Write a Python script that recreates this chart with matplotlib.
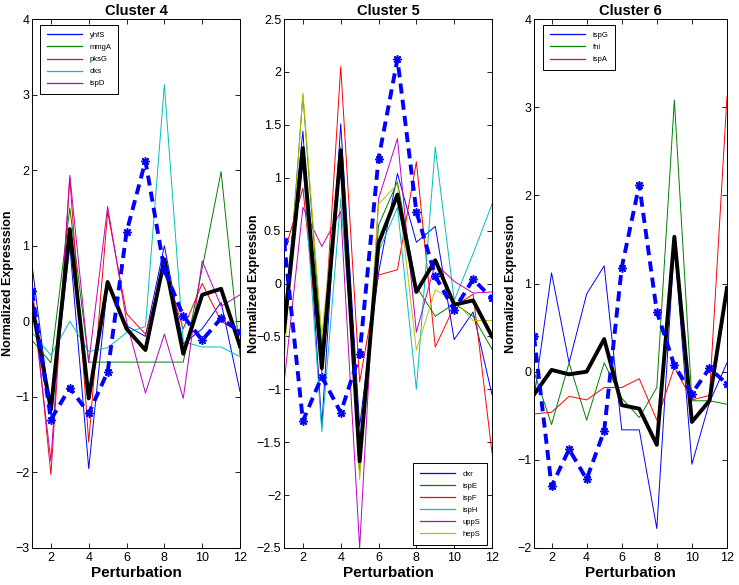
import matplotlib
matplotlib.use("Agg")
import matplotlib.pyplot as plt
import numpy as np
from matplotlib.ticker import FuncFormatter, MultipleLocator

plt.rcParams.update({
    "font.family": ["Liberation Sans", "DejaVu Sans"],
    "axes.linewidth": 0.7,
    "xtick.direction": "in",
    "ytick.direction": "in",
    "xtick.top": True,
    "ytick.right": True,
    "xtick.major.size": 3.5,
    "ytick.major.size": 3.5,
    "xtick.major.width": 0.6,
    "ytick.major.width": 0.6,
    "xtick.labelsize": 9,
    "ytick.labelsize": 9,
})

PERTURB = np.arange(1, 13)

# shared reference profile (blue dashed, same in every panel)
REF_PROFILE = [0.40, -1.30, -0.88, -1.22, -0.67, 1.18, 2.12, 0.68, 0.07, -0.25, 0.04, -0.14]

# Cluster 4
C4_GENES = ["yhfS", "mmgA", "pksG", "dxs", "ispD"]
yhfS = [0.75, -1.25, 1.00, -1.95, 0.50, -0.06, -0.20, 1.00, -0.30, -0.10, 0.25, -0.93]
mmgA = [-0.25, -0.55, 1.50, -0.54, -0.54, -0.54, -0.54, -0.54, -0.54, 0.70, 1.98, -0.45]
pksG = [0.50, -2.03, 1.90, -1.60, 1.45, 0.10, -0.17, 0.70, -0.10, 0.50, 0.00, -0.15]
dxs = [-0.15, -0.45, 0.00, -0.40, -0.35, -0.15, -0.07, 3.13, -0.27, -0.34, -0.34, -0.47]
ispD = [0.30, -1.85, 1.93, -0.55, 1.52, 0.00, -0.95, -0.17, -1.02, 0.80, 0.20, 0.35]
MEAN4 = [0.22, -1.17, 1.22, -1.02, 0.52, -0.10, -0.38, 0.82, -0.43, 0.35, 0.43, -0.33]

# Cluster 5
C5_GENES = ["dxr", "ispE", "ispF", "ispH", "uppS", "hepS"]
dxr = [-0.30, 1.44, -1.35, 1.51, -1.35, 0.10, 1.04, 0.39, 0.54, -0.53, -0.27, -1.05]
ispE = [-0.60, 1.78, -0.60, 1.20, -1.80, 0.55, 0.96, -0.03, -0.31, -0.19, -0.31, -0.62]
ispF = [0.28, 0.90, -0.85, 2.05, -0.93, 0.08, 0.13, 1.15, -0.60, -0.22, -0.10, -1.60]
ispH = [-0.40, 1.15, -1.40, 0.80, -1.50, 0.30, 0.72, -1.00, 1.29, -0.16, 0.28, 0.75]
uppS = [-0.95, 0.72, 0.35, 0.68, -2.50, 0.80, 1.37, -0.46, 0.19, 0.02, -0.09, -0.08]
hepS = [-0.75, 1.80, -0.50, 1.30, -1.85, 0.75, 0.94, -0.63, -0.06, -0.16, -0.35, -0.35]
MEAN5 = [-0.45, 1.28, -0.80, 1.26, -1.68, 0.38, 0.84, -0.08, 0.22, -0.20, -0.16, -0.50]

# Cluster 6
C6_GENES = ["ispG", "fni", "ispA"]
ispG = [-0.30, 1.12, 0.10, 0.88, 1.20, -0.66, -0.66, -1.78, 1.45, -1.05, -0.35, 0.10]
fni = [0.00, -0.60, 0.10, -0.55, 0.10, -0.30, -0.52, -0.18, 3.08, -0.33, -0.33, -0.37]
ispA = [-0.48, -0.46, -0.28, -0.32, -0.18, -0.18, -0.08, -0.55, 0.05, -0.32, -0.27, 3.12]
MEAN6 = [-0.26, 0.02, -0.03, 0.00, 0.37, -0.38, -0.42, -0.83, 1.53, -0.57, -0.33, 0.95]

# old MATLAB line colour order
MATLAB_COLORS = ["#0000ff", "#008000", "#ff0000", "#00bfbf", "#bf00bf", "#bfbf00"]

PANELS = [
    # title, genes, series, mean, ylim, ystep, ylabel, axes rect, legend loc/anchor, label x
    ("Cluster 4", C4_GENES, [yhfS, mmgA, pksG, dxs, ispD], MEAN4, (-3, 4), 1.0,
     "Normalized Expresssion", [32 / 739, 37 / 585, 208 / 739, 529 / 585],
     ("upper left", (0.038, 0.989)), -0.087),
    ("Cluster 5", C5_GENES, [dxr, ispE, ispF, ispH, uppS, hepS], MEAN5, (-2.5, 2.5), 0.5,
     "Normalized Expression", [284 / 739, 37 / 585, 208 / 739, 529 / 585],
     ("lower right", (0.976, 0.006)), -0.115),
    ("Cluster 6", C6_GENES, [ispG, fni, ispA], MEAN6, (-2, 4), 1.0,
     "Normalized Expression", [534 / 739, 37 / 585, 193 / 739, 529 / 585],
     ("upper left", (0.047, 0.989)), -0.088),
]


def fmt(v, _):
    return f"{v:g}".replace("-", "\u2212")


def main() -> None:
    fig = plt.figure(figsize=(7.39, 5.85), dpi=100)

    for title, genes, series, mean, ylim, ystep, ylabel, rect, (loc, anchor), lx in PANELS:
        ax = fig.add_axes(rect)
        handles = []
        for i, (name, vals) in enumerate(zip(genes, series)):
            h, = ax.plot(PERTURB, vals, color=MATLAB_COLORS[i], lw=0.7, label=name)
            handles.append(h)
        ax.plot(PERTURB, mean, color="black", lw=2.8, zorder=4)
        ax.plot(PERTURB, REF_PROFILE, color="#0000ff", lw=2.8, ls=(0, (2.6, 1.6)),
                zorder=5)
        ax.plot(PERTURB, REF_PROFILE, ls="none", color="#0000ff",
                marker=(8, 2, 0), ms=6, mew=1.1, zorder=6)

        ax.set_xlim(1, 12)
        ax.set_ylim(*ylim)
        ax.xaxis.set_major_locator(MultipleLocator(2))
        ax.yaxis.set_major_locator(MultipleLocator(ystep))
        ax.yaxis.set_major_formatter(FuncFormatter(fmt))
        ax.tick_params(axis="y", pad=2)
        ax.tick_params(axis="x", pad=3)

        ax.set_title(title, fontsize=10.5, fontweight="bold", pad=3)
        ax.set_xlabel("Perturbation", fontsize=11, fontweight="bold", labelpad=1)
        ax.set_ylabel(ylabel, fontsize=9, fontweight="bold")
        ax.yaxis.set_label_coords(lx, 0.5)

        leg = ax.legend(handles=handles, loc=loc, bbox_to_anchor=anchor,
                        borderaxespad=0, fontsize=5.5, handlelength=4.6,
                        handletextpad=1.0, labelspacing=0.62, borderpad=0.9,
                        fancybox=False, framealpha=1, edgecolor="black")
        leg.get_frame().set_linewidth(0.7)
        for line in leg.get_lines():
            line.set_linewidth(0.9)

    fig.savefig("out.png", dpi=100)


if __name__ == "__main__":
    main()
